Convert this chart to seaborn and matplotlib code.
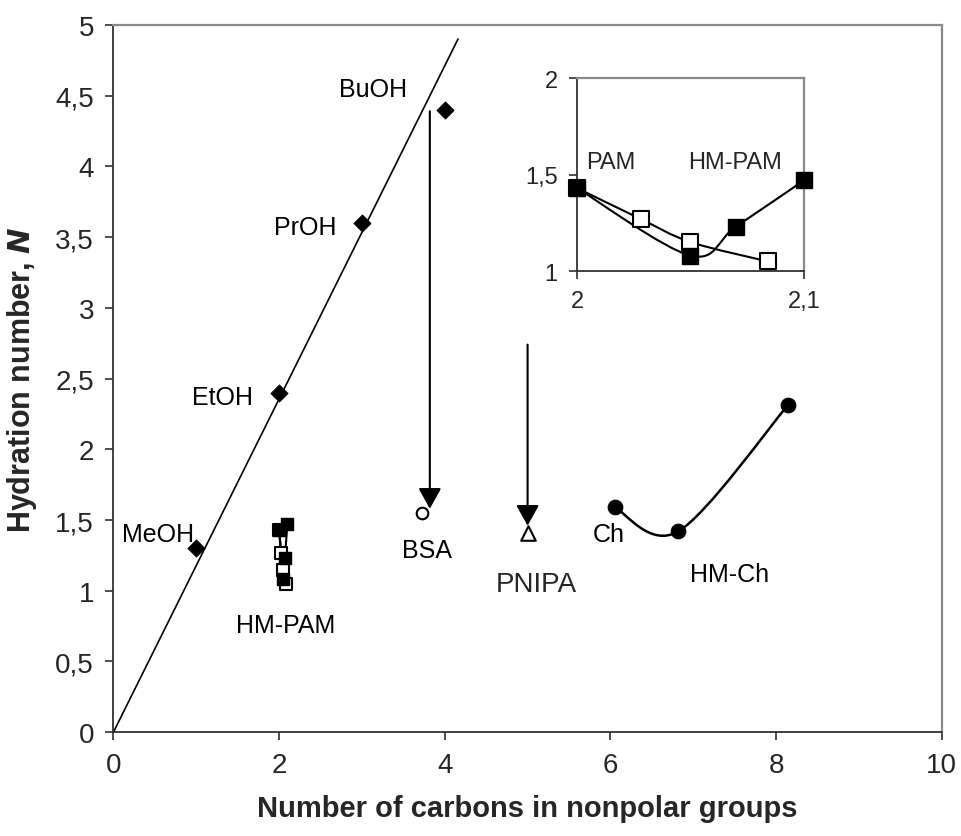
import numpy as np
import pandas as pd
import matplotlib
matplotlib.use("Agg")
import matplotlib.pyplot as plt
from matplotlib.path import Path
from matplotlib.patches import PathPatch
import seaborn as sns

# values
alc_names = ["MeOH", "EtOH", "PrOH", "BuOH"]
alc_x = [1, 2, 3, 4]
alc_y = [1.3, 2.4, 3.6, 4.4]

line_x = [0, 4.16]
line_y = [0, 4.9]

hm_pam_x = [2.0, 2.05, 2.07, 2.1]
hm_pam_y = [1.43, 1.08, 1.23, 1.47]
pam_x = [2.0, 2.028, 2.05, 2.084]
pam_y = [1.43, 1.27, 1.15, 1.05]

ch_x = [6.05, 6.82, 8.14]
ch_y = [1.59, 1.42, 2.31]

bsa_x = [3.72]
bsa_y = [1.55]
pnipa_x = [5.0]
pnipa_y = [1.41]

# arrows: x, start y, end y
bsa_arrow = (3.82, 4.39, 1.58)
pnipa_arrow = (5.0, 2.74, 1.46)

x_ticks = [0, 2, 4, 6, 8, 10]
y_ticks = [0, 0.5, 1, 1.5, 2, 2.5, 3, 3.5, 4, 4.5, 5]
y_tick_labels = ["0", "0,5", "1", "1,5", "2", "2,5", "3", "3,5", "4", "4,5", "5"]
inset_x_ticks = [2, 2.1]
inset_x_labels = ["2", "2,1"]
inset_y_ticks = [1, 1.5, 2]
inset_y_labels = ["1", "1,5", "2"]

sns.set_style("white")
plt.rcParams["font.family"] = ["Liberation Sans", "DejaVu Sans"]


def smooth_path(xs, ys):
    # Excel-like smoothed line through the points
    pts = np.column_stack([xs, ys]).astype(float)
    n = len(pts)
    verts = [pts[0]]
    codes = [Path.MOVETO]
    for i in range(n - 1):
        p0 = pts[max(i - 1, 0)]
        p1 = pts[i]
        p2 = pts[i + 1]
        p3 = pts[min(i + 2, n - 1)]
        verts += [p1 + (p2 - p0) / 6, p2 - (p3 - p1) / 6, p2]
        codes += [Path.CURVE4] * 3
    return Path(verts, codes)


def style_spines(ax):
    for s in ["left", "bottom"]:
        ax.spines[s].set_color("#303030")
        ax.spines[s].set_linewidth(1.3)
    for s in ["top", "right"]:
        ax.spines[s].set_color("#8a8a8a")
        ax.spines[s].set_linewidth(1.6)


def draw_pam(ax, ms):
    ax.add_patch(PathPatch(smooth_path(pam_x, pam_y), fill=False, lw=1.5, ec="black"))
    ax.add_patch(PathPatch(smooth_path(hm_pam_x, hm_pam_y), fill=False, lw=1.5, ec="black"))
    sns.scatterplot(x=pam_x, y=pam_y, ax=ax, marker="s", s=ms ** 2,
                    color="white", edgecolor="black", linewidth=1.5, zorder=5,
                    clip_on=False)
    sns.scatterplot(x=hm_pam_x, y=hm_pam_y, ax=ax, marker="s", s=ms ** 2,
                    color="black", edgecolor="black", linewidth=1.0, zorder=6,
                    clip_on=False)


fig = plt.figure(figsize=(9.61, 8.37), dpi=100)
ax = fig.add_axes([0.118, 0.124, 0.862, 0.845])

ax.plot(line_x, line_y, color="black", lw=1.2)
sns.scatterplot(x=alc_x, y=alc_y, ax=ax, marker="D", s=75, color="black",
                edgecolor="black", zorder=3)

draw_pam(ax, 9)

ax.add_patch(PathPatch(smooth_path(ch_x, ch_y), fill=False, lw=1.8, ec="black"))
sns.scatterplot(x=ch_x, y=ch_y, ax=ax, marker="o", s=110, color="black",
                edgecolor="black", zorder=3)

sns.scatterplot(x=bsa_x, y=bsa_y, ax=ax, marker="o", s=70, color="white",
                edgecolor="black", linewidth=1.5, zorder=3)
sns.scatterplot(x=pnipa_x, y=pnipa_y, ax=ax, marker="^", s=110, color="white",
                edgecolor="black", linewidth=1.5, zorder=3)

for ax_x, y0, y1 in [bsa_arrow, pnipa_arrow]:
    ax.annotate("", xy=(ax_x, y1), xytext=(ax_x, y0),
                arrowprops=dict(arrowstyle="-|>,head_length=0.9,head_width=0.5",
                                mutation_scale=14, lw=1.5, color="black",
                                shrinkA=0, shrinkB=0), zorder=4)

lab = dict(fontsize=18, color="black", va="center")
ax.text(0.98, 1.40, "MeOH", ha="right", **lab)
ax.text(1.315, 2.37, "EtOH", ha="center", **lab)
ax.text(2.32, 3.57, "PrOH", ha="center", **lab)
ax.text(3.13, 4.55, "BuOH", ha="center", **lab)
ax.text(2.08, 0.76, "HM-PAM", ha="center", **lab)
ax.text(3.78, 1.29, "BSA", ha="center", **lab)
ax.text(5.11, 1.05, "PNIPA", ha="center", fontsize=20, va="center")
ax.text(5.98, 1.40, "Ch", ha="center", **lab)
ax.text(7.44, 1.12, "HM-Ch", ha="center", **lab)

ax.set_xlim(0, 10)
ax.set_ylim(0, 5)
ax.set_xticks(x_ticks)
ax.set_xticklabels([str(t) for t in x_ticks])
ax.set_yticks(y_ticks)
ax.set_yticklabels(y_tick_labels)
ax.tick_params(direction="out", length=6, width=1.2, color="#303030",
               labelsize=20, pad=8, bottom=True, left=True)
ax.set_xlabel("Number of carbons in nonpolar groups", fontsize=21,
              fontweight="bold", labelpad=12)
ax.set_ylabel("Hydration number, $\\bfit{N}$", fontsize=22,
              fontweight="bold", labelpad=12)
style_spines(ax)

# inset
ins = fig.add_axes([0.6004, 0.675, 0.2362, 0.2306])
draw_pam(ins, 11)
ins.text(2.0148, 1.563, "PAM", fontsize=17, ha="center", va="center")
ins.text(2.0696, 1.563, "HM-PAM", fontsize=17, ha="center", va="center")
ins.set_xlim(2, 2.1)
ins.set_ylim(1, 2)
ins.set_xticks(inset_x_ticks)
ins.set_xticklabels(inset_x_labels)
ins.set_yticks(inset_y_ticks)
ins.set_yticklabels(inset_y_labels)
ins.tick_params(direction="out", length=6, width=1.2, color="#303030",
                labelsize=17, pad=8, bottom=True, left=True)
ins.set_xlabel("")
ins.set_ylabel("")
style_spines(ins)
for a in [ax, ins]:
    a.grid(False)

fig.savefig("out.png", dpi=100)
